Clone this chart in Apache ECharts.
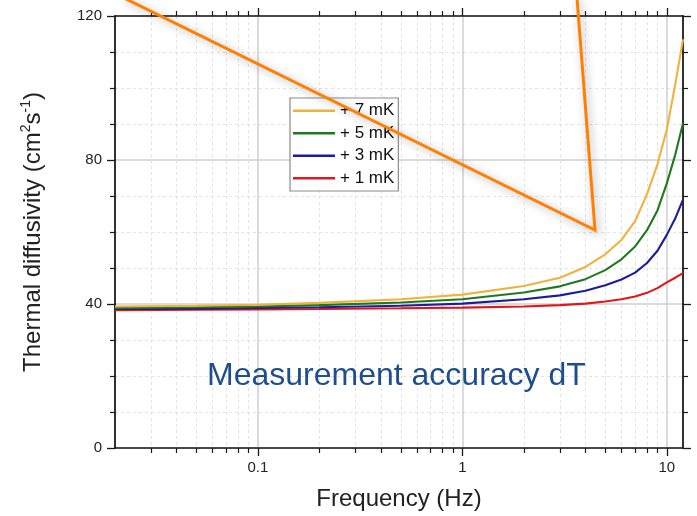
<!DOCTYPE html>
<html><head><meta charset="utf-8">
<script src="https://cdn.jsdelivr.net/npm/echarts@6/dist/echarts.min.js"></script>
<style>html,body{margin:0;padding:0;background:#fff}#c{width:697px;height:516px}</style>
</head><body><div id="c"></div>
<script>
// ---- data ----
const frequencies = [0.02, 0.05, 0.1, 0.2, 0.5, 1, 2, 3, 4, 5, 6, 7, 8, 9, 10, 11, 12];
const dT7mK = [39.3, 39.5, 39.8, 40.3, 41.3, 42.6, 45.0, 47.3, 50.3, 53.8, 57.8, 63.0, 70.5, 78.8, 88.5, 101.0, 113.5];
const dT5mK = [38.9, 39.1, 39.3, 39.7, 40.4, 41.3, 43.2, 44.9, 46.9, 49.4, 52.4, 56.0, 60.5, 66.0, 73.5, 81.5, 90.2];
const dT3mK = [38.6, 38.7, 38.9, 39.1, 39.5, 40.1, 41.3, 42.4, 43.7, 45.2, 46.8, 48.7, 51.4, 54.8, 59.2, 63.8, 69.0];
const dT1mK = [38.3, 38.4, 38.5, 38.6, 38.8, 39.0, 39.3, 39.7, 40.1, 40.7, 41.3, 42.1, 43.1, 44.4, 46.0, 47.3, 48.6];
const seriesNames = ['+ 7 mK', '+ 5 mK', '+ 3 mK', '+ 1 mK'];
const xMajorTicks = [0.1, 1, 10];
const xMinorTicks = [0.03, 0.04, 0.05, 0.06, 0.07, 0.08, 0.09,
                     0.2, 0.3, 0.4, 0.5, 0.6, 0.7, 0.8, 0.9,
                     2, 3, 4, 5, 6, 7, 8, 9];
const yTickLabels = [0, 40, 80, 120];

// ---- styles ----
const colors = { '+ 7 mK': '#F0B23C', '+ 5 mK': '#1F7A1F', '+ 3 mK': '#1C1C9C', '+ 1 mK': '#E3161B' };
const FONT = 'Liberation Sans, Arial, sans-serif';
const axisColor = '#1a1a1a';

function pairs(vals) { return frequencies.map((f, i) => [f, vals[i]]); }
const valuesByName = { '+ 7 mK': dT7mK, '+ 5 mK': dT5mK, '+ 3 mK': dT3mK, '+ 1 mK': dT1mK };

const chart = echarts.init(document.getElementById('c'), null, { renderer: 'canvas' });

const baseLog = { type: 'log', logBase: 10, min: 0.02, max: 12, gridIndex: 0 };

const xAxis = [
  Object.assign({}, baseLog, {
    position: 'bottom',
    axisLine: { show: true, lineStyle: { color: axisColor, width: 1.5 } },
    axisTick: { show: true, inside: false, length: 8, customValues: xMajorTicks, lineStyle: { color: axisColor, width: 1.3 } },
    axisLabel: { show: true, customValues: xMajorTicks, margin: 12, fontSize: 15, color: '#222', fontFamily: FONT,
      formatter: v => String(+(+v).toPrecision(6)) },
    splitLine: { show: true, lineStyle: { color: '#cfcfcf', width: 1.5 } },
    name: 'Frequency (Hz)', nameLocation: 'middle', nameGap: 39,
    nameTextStyle: { fontSize: 24, color: '#222', fontFamily: FONT }
  }),
  Object.assign({}, baseLog, {
    position: 'bottom',
    axisLine: { show: false },
    axisTick: { show: true, inside: false, length: 5, customValues: xMinorTicks, lineStyle: { color: axisColor, width: 1.2 } },
    axisLabel: { show: false },
    splitLine: { show: true, lineStyle: { color: '#e2e2e2', width: 1, type: [3, 3] } }
  }),
  Object.assign({}, baseLog, {
    position: 'top',
    axisLine: { show: true, lineStyle: { color: axisColor, width: 1.5 } },
    axisTick: { show: true, inside: false, length: 8, customValues: xMajorTicks, lineStyle: { color: axisColor, width: 1.3 } },
    axisLabel: { show: false },
    splitLine: { show: false }
  }),
  Object.assign({}, baseLog, {
    position: 'top',
    axisLine: { show: false },
    axisTick: { show: true, inside: false, length: 5, customValues: xMinorTicks, lineStyle: { color: axisColor, width: 1.2 } },
    axisLabel: { show: false },
    splitLine: { show: false }
  })
];

const baseY = { type: 'value', min: 0, max: 120, interval: 40, gridIndex: 0 };
const yAxis = [
  Object.assign({}, baseY, {
    position: 'left',
    axisLine: { show: true, lineStyle: { color: axisColor, width: 1.8 } },
    axisTick: { show: true, inside: false, length: 8, lineStyle: { color: axisColor, width: 1.3 } },
    minorTick: { show: true, splitNumber: 4, length: 5, lineStyle: { color: axisColor, width: 1.2 } },
    axisLabel: { show: true, margin: 13, fontSize: 15, color: '#222', fontFamily: FONT,
      formatter: v => (yTickLabels.indexOf(v) >= 0 ? String(v) : '') },
    splitLine: { show: true, lineStyle: { color: '#cfcfcf', width: 1.5 } },
    minorSplitLine: { show: true, lineStyle: { color: '#e2e2e2', width: 1, type: [3, 3] } },
    name: '{a|Thermal diffusivity (cm}{s|2}{a|s}{s|-1}{a|)}',
    nameLocation: 'middle', nameGap: 68, nameRotate: 90,
    nameTextStyle: {
      fontFamily: FONT, color: '#222',
      rich: {
        a: { fontSize: 24, lineHeight: 28, color: '#222', fontFamily: FONT },
        s: { fontSize: 14, lineHeight: 15, color: '#222', fontFamily: FONT, verticalAlign: 'top' }
      }
    }
  }),
  Object.assign({}, baseY, {
    position: 'right',
    axisLine: { show: true, lineStyle: { color: axisColor, width: 1.8 } },
    axisTick: { show: true, inside: false, length: 8, lineStyle: { color: axisColor, width: 1.3 } },
    minorTick: { show: true, splitNumber: 4, length: 5, lineStyle: { color: axisColor, width: 1.2 } },
    axisLabel: { show: false },
    splitLine: { show: false }
  })
];

// draw order: red first, yellow last (on top)
const drawOrder = ['+ 1 mK', '+ 3 mK', '+ 5 mK', '+ 7 mK'];
const series = drawOrder.map(name => ({
  name: name,
  type: 'line',
  xAxisIndex: 0, yAxisIndex: 0,
  data: pairs(valuesByName[name]),
  symbol: 'none', showSymbol: false, smooth: false,
  lineStyle: { color: colors[name], width: 2.1 },
  itemStyle: { color: colors[name] },
  animation: false
}));

chart.setOption({
  animation: false,
  backgroundColor: '#ffffff',
  grid: { left: 115, right: 14, top: 16, bottom: 67, containLabel: false },
  title: {
    text: 'Measurement accuracy dT', left: 207, top: 360, padding: 0,
    textStyle: { fontSize: 32, fontWeight: 'normal', color: '#1F4E8C', fontFamily: FONT }
  },
  legend: {
    data: seriesNames, orient: 'vertical', left: 290, top: 98,
    padding: [4, 4, 4, 3], itemGap: 5, itemWidth: 42, itemHeight: 2.5, icon: 'rect',
    backgroundColor: '#ffffff', borderColor: '#8a8a8a', borderWidth: 1.2, borderRadius: 0,
    textStyle: { fontSize: 17, color: '#111', fontFamily: FONT, lineHeight: 17.5 },
    selectedMode: false
  },
  xAxis: xAxis,
  yAxis: yAxis,
  series: series,
  graphic: [{
    type: 'polyline', z: 100, silent: true,
    shape: { points: [[124, -2], [595, 230], [577, -2]] },
    style: { stroke: '#FF8000', lineWidth: 3, fill: null, lineJoin: 'miter',
      shadowBlur: 8, shadowColor: 'rgba(0,0,0,0.35)', shadowOffsetX: 2, shadowOffsetY: 2 }
  }]
});
</script></body></html>
